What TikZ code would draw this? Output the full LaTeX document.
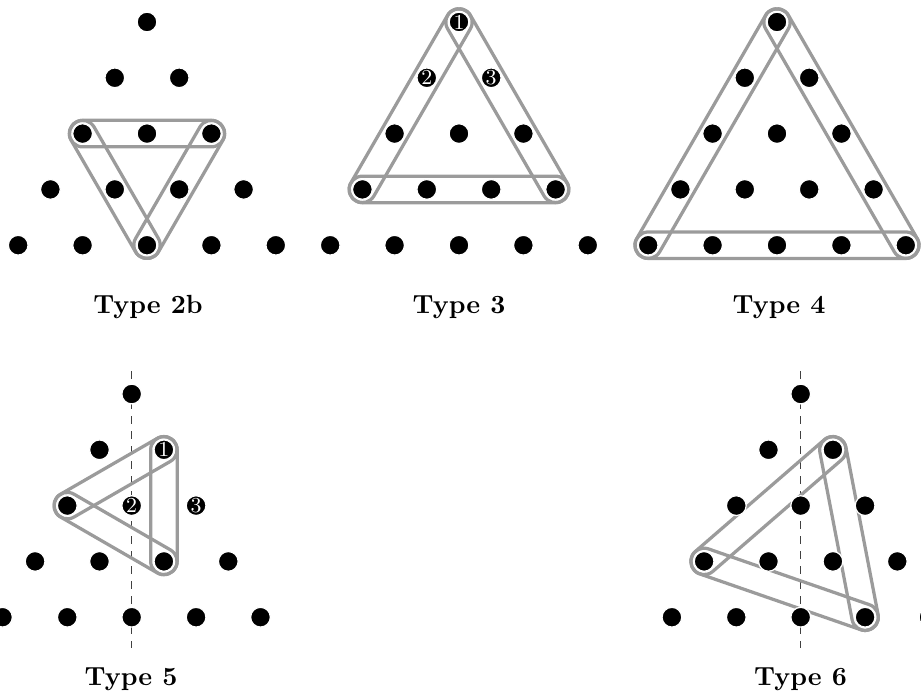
\documentclass[tikz,border=0pt]{standalone}
\usetikzlibrary{calc}
\definecolor{loopgray}{RGB}{155,155,155}
\tikzset{
  dotnode/.style={circle, fill=black, draw=white, line width=0.5pt, inner sep=0pt, minimum size=7.9pt},
  numlabel/.style={text=white, font=\fontsize{8.5}{9}\selectfont, inner sep=0pt},
  loopline/.style={draw=loopgray, line width=1.3pt},
  axisline/.style={dashed, line width=0.4pt, black!75},
  typelabel/.style={font=\fontsize{10.5}{12}\selectfont\bfseries, anchor=base, inner sep=0pt},
}
\newcommand{\gridcoords}[3]{%
  \foreach \r in {0,...,4}{%
    \foreach \c in {0,...,\r}{%
      \coordinate (#1-\r-\c) at ({#2+(\c-\r/2)*64.4}, {#3+\r*55.8});
    }%
  }%
}
\newcommand{\griddots}[1]{%
  \foreach \r in {0,...,4}{%
    \foreach \c in {0,...,\r}{%
      \node[dotnode] (#1d-\r-\c) at (#1-\r-\c) {};
    }%
  }%
}
\newcommand{\stadium}[2]{%
  \draw[loopline] let \p1=($(#2)-(#1)$), \n1={atan2(\y1,\x1)} in
    ($(#1)+(\n1+90:5.3pt)$) -- ($(#2)+(\n1+90:5.3pt)$)
    arc[start angle=\n1+90, delta angle=-180, radius=5.3pt]
    -- ($(#1)+(\n1-90:5.3pt)$)
    arc[start angle=\n1-90, delta angle=-180, radius=5.3pt] -- cycle;%
}
\begin{document}
\begin{tikzpicture}[x=0.4pt, y=-0.4pt]
\useasboundingbox (0,0) rectangle (921,695);
% grids
\gridcoords{ta}{147}{22}
\gridcoords{tb}{459}{22}
\gridcoords{tc}{777}{22}
\gridcoords{td}{131.7}{394}
\gridcoords{te}{800.7}{394}
% dashed axes
\coordinate (dTop) at (131.7,371);
\coordinate (dBot) at (131.7,648);
\coordinate (eTop) at (800.7,371);
\coordinate (eBot) at (800.7,648);
\draw[axisline] (dTop) -- (dBot);
\draw[axisline] (eTop) -- (eBot);
% Type 2b loops
\stadium{ta-2-0}{ta-2-2}
\stadium{ta-2-0}{ta-4-2}
\stadium{ta-2-2}{ta-4-2}
% Type 3 loops
\stadium{tb-0-0}{tb-3-0}
\stadium{tb-0-0}{tb-3-3}
\stadium{tb-3-0}{tb-3-3}
% Type 4 loops
\stadium{tc-0-0}{tc-4-0}
\stadium{tc-0-0}{tc-4-4}
\stadium{tc-4-0}{tc-4-4}
% Type 5 loops
\stadium{td-1-1}{td-2-0}
\stadium{td-2-0}{td-3-2}
\stadium{td-1-1}{td-3-2}
% Type 6 loops
\stadium{te-1-1}{te-3-0}
\stadium{te-3-0}{te-4-3}
\stadium{te-1-1}{te-4-3}
% dots
\griddots{ta}
\griddots{tb}
\griddots{tc}
\griddots{td}
\griddots{te}
% partial dots at the edges
\node[dotnode] (edgeR) at (929,617.2) {};
\node[dotnode] (edgeL) at (2.5,617.2) {};
% numbers
\node[numlabel] (n3a) at (tb-0-0) {1};
\node[numlabel] (n3b) at (tb-1-0) {2};
\node[numlabel] (n3c) at (tb-1-1) {3};
\node[numlabel] (n5a) at (td-1-1) {1};
\node[numlabel] (n5b) at (td-2-1) {2};
\node[numlabel] (n5c) at (td-2-2) {3};
% labels
\node[typelabel] (lab2b) at (148,313) {Type 2b};
\node[typelabel] (lab3) at (459,313) {Type 3};
\node[typelabel] (lab4) at (779,313) {Type 4};
\node[typelabel] (lab5) at (131,685) {Type 5};
\node[typelabel] (lab6) at (800.5,685) {Type 6};
\end{tikzpicture}
\end{document}
